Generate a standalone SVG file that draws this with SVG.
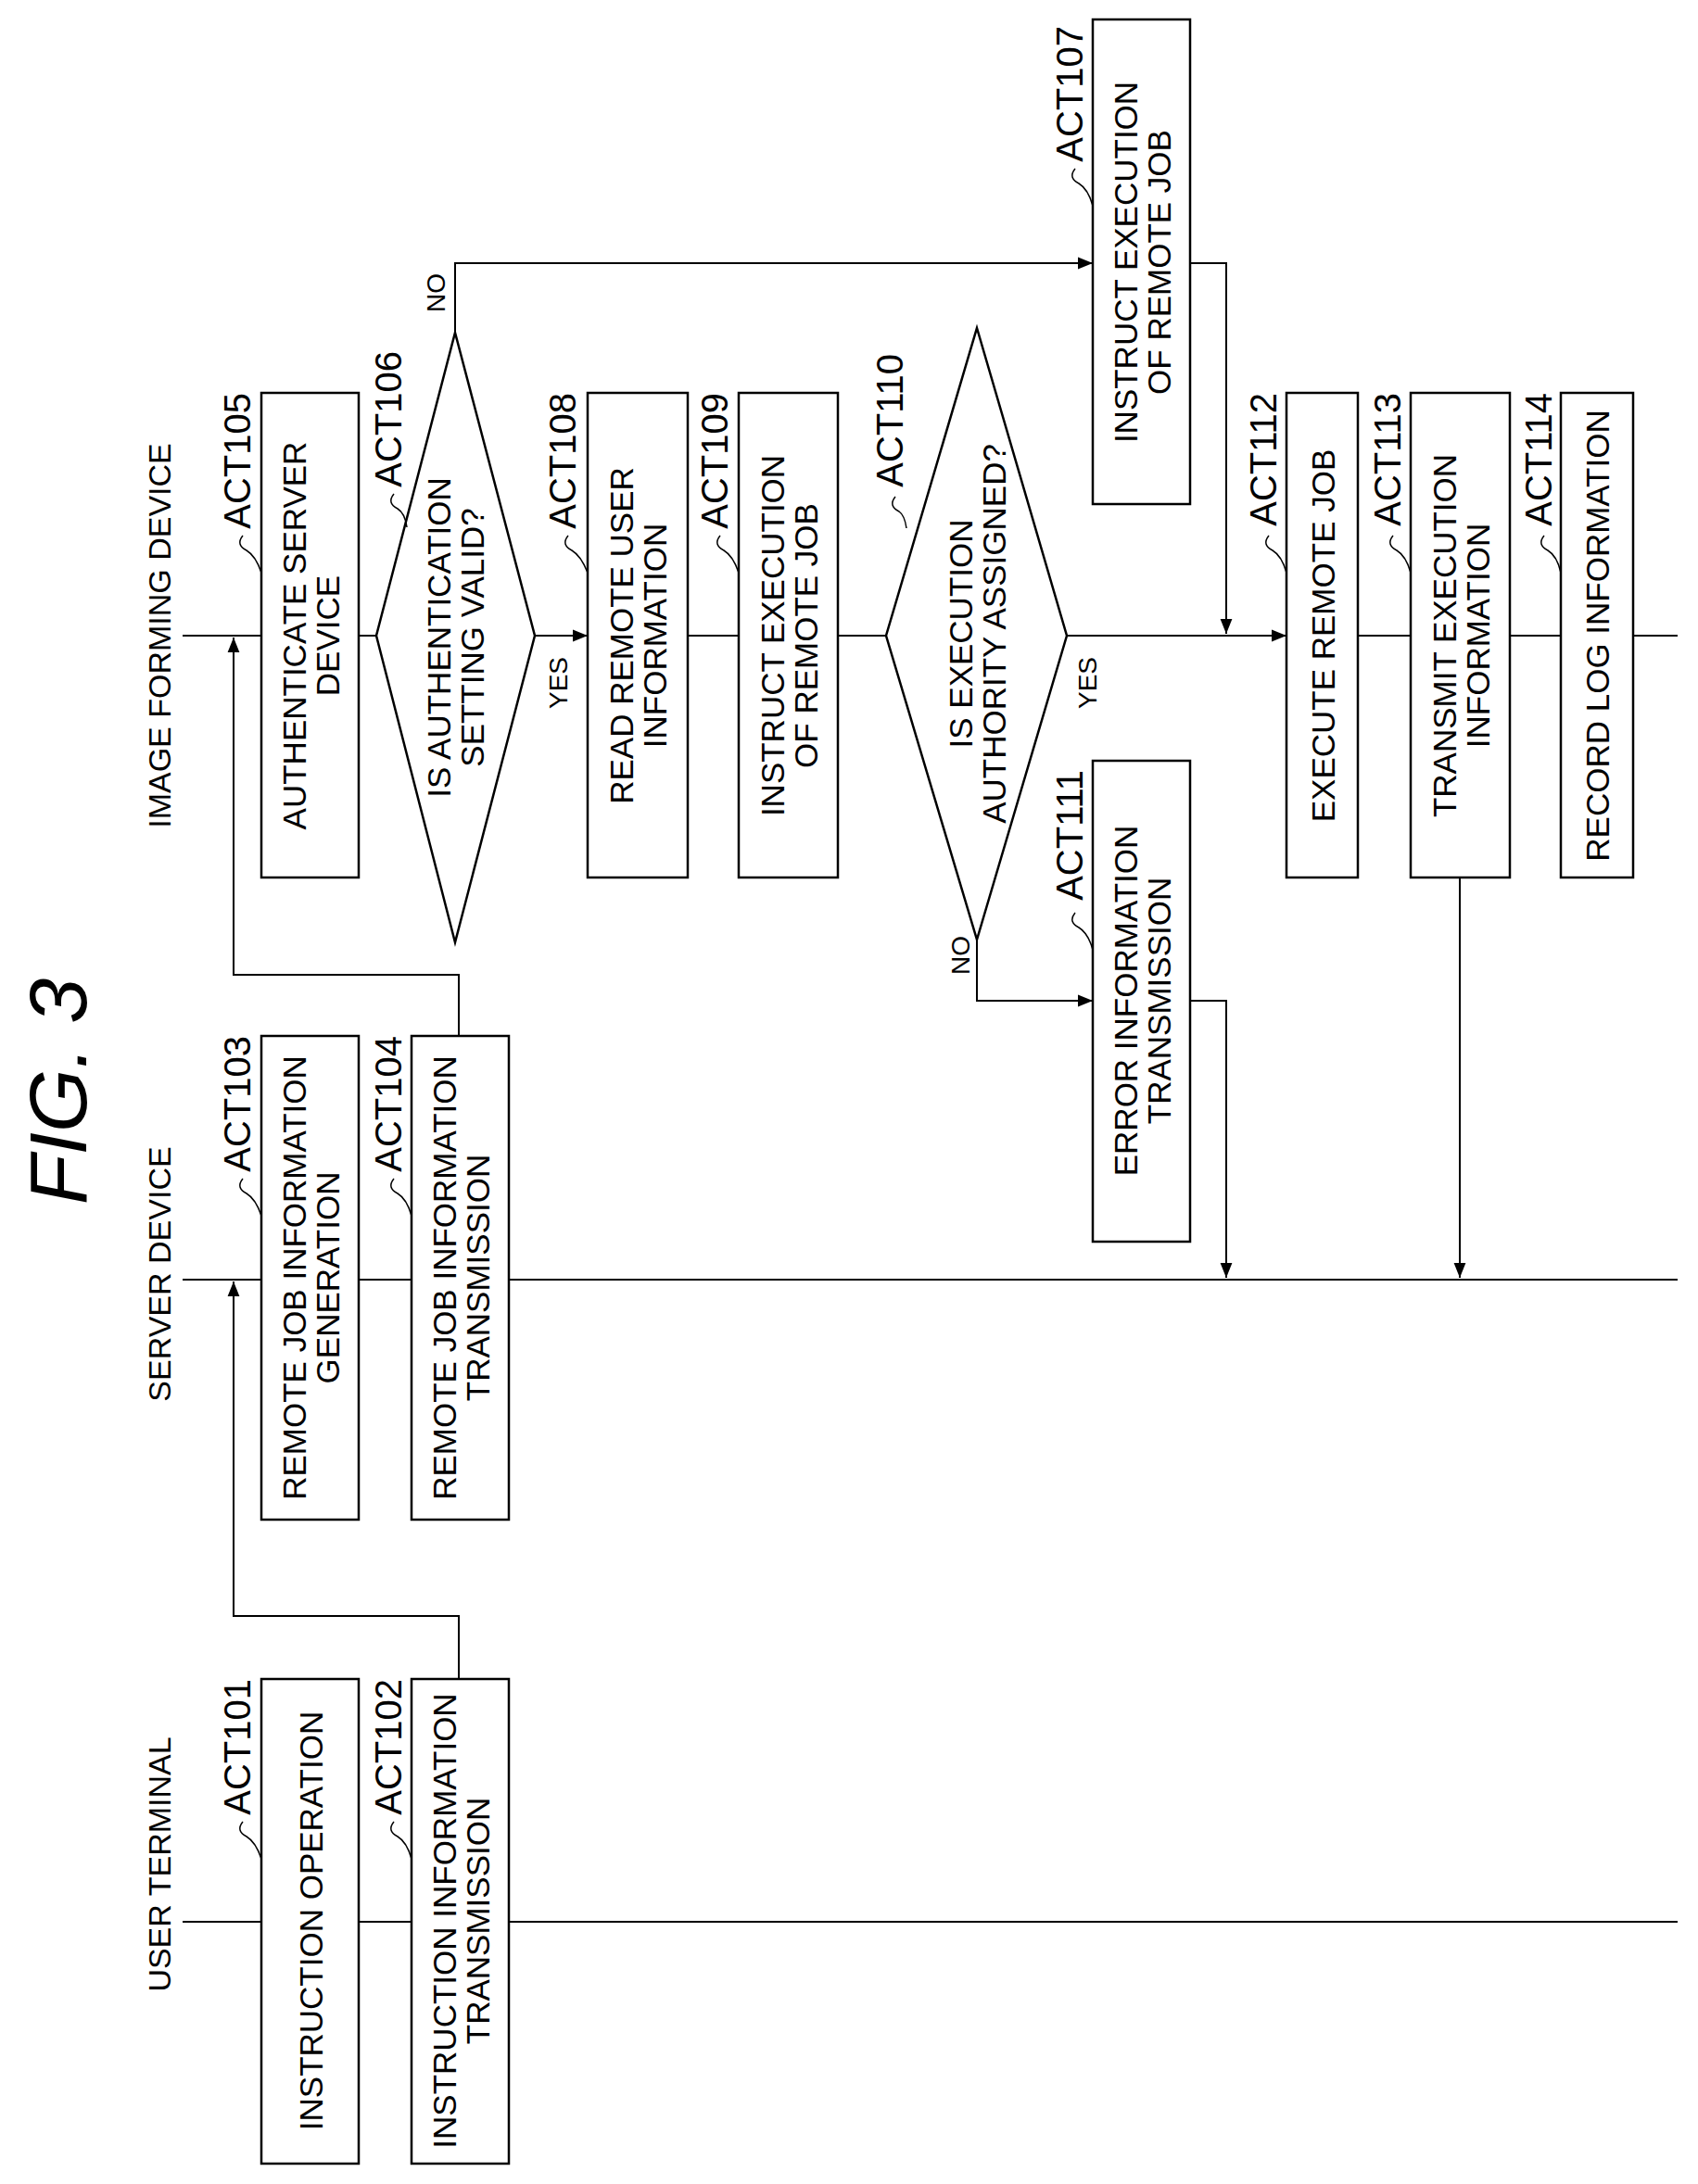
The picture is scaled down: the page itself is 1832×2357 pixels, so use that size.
<svg xmlns="http://www.w3.org/2000/svg" width="1832" height="2357" viewBox="0 0 1832 2357">
<style>
text{font-family:"Liberation Sans",Arial,sans-serif;fill:#000}
.b{fill:#fff;stroke:#000;stroke-width:2.5}
.t{font-size:35px;text-anchor:middle;dominant-baseline:central}
.a{font-size:40px;text-anchor:end}
.l{font-size:34px;text-anchor:middle;dominant-baseline:central}
.yn{font-size:28px;text-anchor:middle;dominant-baseline:central}
.ln{fill:none;stroke:#000;stroke-width:2}
.sq{fill:none;stroke:#000;stroke-width:1.5}
</style>
<defs><marker id="ar" viewBox="0 0 10 10" refX="10" refY="5" markerWidth="7" markerHeight="7" markerUnits="userSpaceOnUse" orient="auto"><path d="M0,0L10,5L0,10z" fill="#000"/></marker>
<marker id="ah" viewBox="0 0 10 10" refX="10" refY="5" markerWidth="16" markerHeight="16" markerUnits="userSpaceOnUse" orient="auto"><path d="M0,1L10,5L0,9z" fill="#000"/></marker></defs>
<text transform="translate(62,1178) rotate(-90)" style="font-size:88px;font-style:italic;text-anchor:middle;dominant-baseline:central">FIG. 3</text>
<g id="lanes">
<line class="ln" x1="197" y1="686" x2="1810" y2="686"/>
<line class="ln" x1="197" y1="1381" x2="1810" y2="1381"/>
<line class="ln" x1="197" y1="2074" x2="1810" y2="2074"/>
<text class="l" transform="translate(172,686) rotate(-90)">IMAGE FORMING DEVICE</text>
<text class="l" transform="translate(172,1375) rotate(-90)">SERVER DEVICE</text>
<text class="l" transform="translate(172,2012) rotate(-90)">USER TERMINAL</text>
</g>
<g id="connectors">
<polyline class="ln" points="495,1812 495,1744 252,1744 252,1383" marker-end="url(#ah)"/>
<polyline class="ln" points="495,1118 495,1052 252,1052 252,688" marker-end="url(#ah)"/>
<line class="ln" x1="577" y1="686" x2="634" y2="686" marker-end="url(#ah)"/>
<polyline class="ln" points="491,359 491,284 1179,284" marker-end="url(#ah)"/>
<polyline class="ln" points="1284,284 1323,284 1323,684" marker-end="url(#ah)"/>
<line class="ln" x1="1151" y1="686" x2="1388" y2="686" marker-end="url(#ah)"/>
<polyline class="ln" points="1054,1014 1054,1080 1179,1080" marker-end="url(#ah)"/>
<polyline class="ln" points="1284,1080 1323,1080 1323,1379" marker-end="url(#ah)"/>
<line class="ln" x1="1575" y1="947" x2="1575" y2="1379" marker-end="url(#ah)"/>
<text class="yn" transform="translate(602,737) rotate(-90)">YES</text>
<text class="yn" transform="translate(470,316) rotate(-90)">NO</text>
<text class="yn" transform="translate(1173,737) rotate(-90)">YES</text>
<text class="yn" transform="translate(1036,1031) rotate(-90)">NO</text>
</g>
<g id="ACT101"><rect class="b" x="282" y="1812" width="105" height="523"/><text class="t" transform="translate(335,2073) rotate(-90)">INSTRUCTION OPERATION</text><text class="a" transform="translate(270,1812) rotate(-90)">ACT101</text><path class="sq" d="M262,1966q-8,10 4,16q10,6 16,24"/></g>
<g id="ACT102"><rect class="b" x="444" y="1812" width="105" height="523"/><text class="t" transform="translate(497,2073) rotate(-90)"><tspan x="0" y="-18">INSTRUCTION INFORMATION</tspan><tspan x="0" y="18">TRANSMISSION</tspan></text><text class="a" transform="translate(433,1812) rotate(-90)">ACT102</text><path class="sq" d="M425,1966q-8,10 4,16q10,6 15,24"/></g>
<g id="ACT103"><rect class="b" x="282" y="1118" width="105" height="522"/><text class="t" transform="translate(335,1379) rotate(-90)"><tspan x="0" y="-18">REMOTE JOB INFORMATION</tspan><tspan x="0" y="18">GENERATION</tspan></text><text class="a" transform="translate(270,1118) rotate(-90)">ACT103</text><path class="sq" d="M262,1272q-8,10 4,16q10,6 16,24"/></g>
<g id="ACT104"><rect class="b" x="444" y="1118" width="105" height="522"/><text class="t" transform="translate(497,1379) rotate(-90)"><tspan x="0" y="-18">REMOTE JOB INFORMATION</tspan><tspan x="0" y="18">TRANSMISSION</tspan></text><text class="a" transform="translate(433,1118) rotate(-90)">ACT104</text><path class="sq" d="M425,1272q-8,10 4,16q10,6 15,24"/></g>
<g id="ACT105"><rect class="b" x="282" y="424" width="105" height="523"/><text class="t" transform="translate(335,686) rotate(-90)"><tspan x="0" y="-18">AUTHENTICATE SERVER</tspan><tspan x="0" y="18">DEVICE</tspan></text><text class="a" transform="translate(270,424) rotate(-90)">ACT105</text><path class="sq" d="M262,578q-8,10 4,16q10,6 16,24"/></g>
<g id="ACT106"><polygon class="b" points="491,359 577,686 491,1017 406,686"/><text class="t" transform="translate(491,688) rotate(-90)"><tspan x="0" y="-18">IS AUTHENTICATION</tspan><tspan x="0" y="18">SETTING VALID?</tspan></text><text class="a" transform="translate(433,379) rotate(-90)">ACT106</text><path class="sq" d="M425,533q-8,10 4,16q8,5 10,20"/></g>
<g id="ACT107"><rect class="b" x="1179" y="21" width="105" height="523"/><text class="t" transform="translate(1232,283) rotate(-90)"><tspan x="0" y="-18">INSTRUCT EXECUTION</tspan><tspan x="0" y="18">OF REMOTE JOB</tspan></text><text class="a" transform="translate(1168,28) rotate(-90)">ACT107</text><path class="sq" d="M1160,182q-8,10 4,16q10,6 15,24"/></g>
<g id="ACT108"><rect class="b" x="634" y="424" width="108" height="523"/><text class="t" transform="translate(688,686) rotate(-90)"><tspan x="0" y="-18">READ REMOTE USER</tspan><tspan x="0" y="18">INFORMATION</tspan></text><text class="a" transform="translate(621,424) rotate(-90)">ACT108</text><path class="sq" d="M613,578q-8,10 4,16q10,6 17,24"/></g>
<g id="ACT109"><rect class="b" x="797" y="424" width="107" height="523"/><text class="t" transform="translate(851,686) rotate(-90)"><tspan x="0" y="-18">INSTRUCT EXECUTION</tspan><tspan x="0" y="18">OF REMOTE JOB</tspan></text><text class="a" transform="translate(785,424) rotate(-90)">ACT109</text><path class="sq" d="M777,578q-8,10 4,16q10,6 16,24"/></g>
<g id="ACT110"><polygon class="b" points="1054,354 1151,686 1054,1014 956,686"/><text class="t" transform="translate(1054,684) rotate(-90)"><tspan x="0" y="-18">IS EXECUTION</tspan><tspan x="0" y="18">AUTHORITY ASSIGNED?</tspan></text><text class="a" transform="translate(974,382) rotate(-90)">ACT110</text><path class="sq" d="M966,536q-8,10 4,16q6,4 8,18"/></g>
<g id="ACT111"><rect class="b" x="1179" y="821" width="105" height="519"/><text class="t" transform="translate(1232,1080) rotate(-90)"><tspan x="0" y="-18">ERROR INFORMATION</tspan><tspan x="0" y="18">TRANSMISSION</tspan></text><text class="a" transform="translate(1168,831) rotate(-90)">ACT111</text><path class="sq" d="M1160,985q-8,10 4,16q10,6 15,24"/></g>
<g id="ACT112"><rect class="b" x="1388" y="424" width="77" height="523"/><text class="t" transform="translate(1427,686) rotate(-90)">EXECUTE REMOTE JOB</text><text class="a" transform="translate(1377,424) rotate(-90)">ACT112</text><path class="sq" d="M1369,578q-8,10 4,16q10,6 15,24"/></g>
<g id="ACT113"><rect class="b" x="1522" y="424" width="107" height="523"/><text class="t" transform="translate(1576,686) rotate(-90)"><tspan x="0" y="-18">TRANSMIT EXECUTION</tspan><tspan x="0" y="18">INFORMATION</tspan></text><text class="a" transform="translate(1511,424) rotate(-90)">ACT113</text><path class="sq" d="M1503,578q-8,10 4,16q10,6 15,24"/></g>
<g id="ACT114"><rect class="b" x="1684" y="424" width="78" height="523"/><text class="t" transform="translate(1723,686) rotate(-90)">RECORD LOG INFORMATION</text><text class="a" transform="translate(1674,424) rotate(-90)">ACT114</text><path class="sq" d="M1666,578q-8,10 4,16q10,6 14,24"/></g>
</svg>
